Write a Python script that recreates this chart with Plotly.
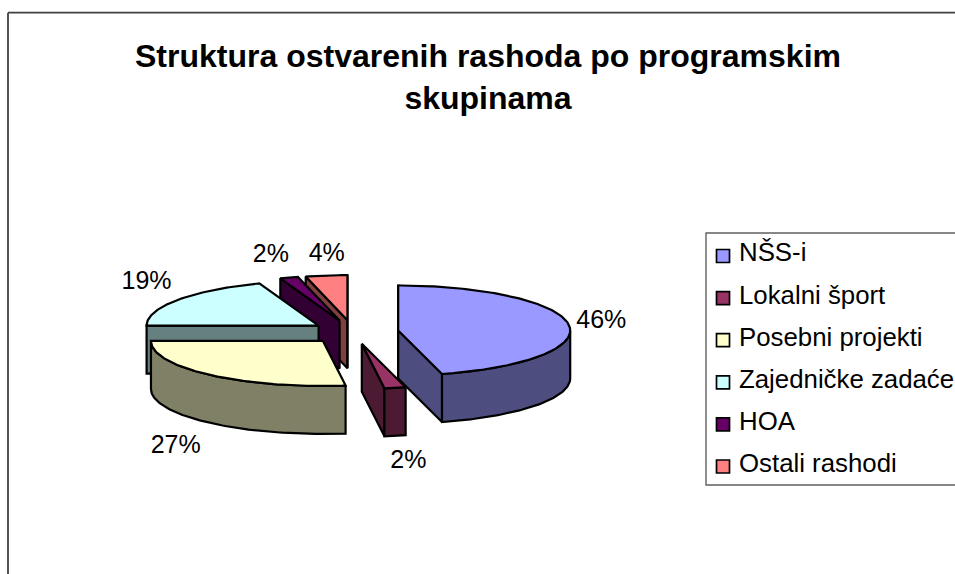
import math
import plotly.graph_objects as go

title = "Struktura ostvarenih rashoda po programskim<br>skupinama"
categories = ["NŠS-i", "Lokalni šport", "Posebni projekti", "Zajedničke zadaće", "HOA", "Ostali rashodi"]
shares = [45.9, 2.0, 27.1, 19.4, 1.7, 3.9]
top_colors = ["#9999FF", "#993366", "#FFFFCC", "#CCFFFF", "#660066", "#FF8080"]
wall_colors = ["#4D4D80", "#4D1A33", "#808066", "#668080", "#330033", "#804040"]

# Pie projection (pixels on the full-page axes)
CX, CY = 353, 332
RX, RY = 172, 45
DEPTH = 48
EXPLODE = [0.265, 0.265, 0.265, 0.244, 0.265, 0.265]
LABEL_NUDGE = [(-5, 0), (6, 3), (-9, 7), (0, -4), (-7, 0), (5, 2)]
LINE_W = 2.2
FONT = "Liberation Sans, Arial, sans-serif"
LEG_X, LEG_Y0, LEG_STEP = 723, 256, 42.1
DRAW_ORDER = [5, 4, 3, 2, 0, 1]


def poly(xs, ys, fill):
    return go.Scatter(
        x=xs + xs[:1], y=ys + ys[:1], mode="lines", fill="toself", fillcolor=fill,
        line=dict(color="black", width=LINE_W), hoverinfo="skip", showlegend=False,
    )


def rim(ax, ay, a0, a1):
    n = max(2, int(abs(a1 - a0)) + 1)
    angs = [math.radians(a0 + (a1 - a0) * i / (n - 1)) for i in range(n)]
    return [ax + RX * math.sin(t) for t in angs], [ay - RY * math.cos(t) for t in angs]


total = sum(shares)
bounds = [0.0]
for v in shares:
    bounds.append(bounds[-1] + v / total * 360)

traces, label_x, label_y, label_text = [], [], [], []
slices = {}
for i, v in enumerate(shares):
    a0, a1 = bounds[i], bounds[i + 1]
    mid = math.radians((a0 + a1) / 2)
    ax = CX + EXPLODE[i] * RX * math.sin(mid)
    ay = CY - EXPLODE[i] * RY * math.cos(mid)
    slices[i] = (a0, a1, ax, ay)
    k = 1.22
    label_x.append(ax + k * RX * math.sin(mid) + LABEL_NUDGE[i][0])
    label_y.append(ay - (k * RY + 13) * math.cos(mid) + (DEPTH if math.cos(mid) < 0 else 0) + LABEL_NUDGE[i][1])
    label_text.append(f"{round(v / total * 100)}%")

for i in DRAW_ORDER:
    a0, a1, ax, ay = slices[i]
    # Cut walls: only those facing the viewer
    for a, sign in ((a0, -1), (a1, 1)):
        if sign * math.sin(math.radians(a)) >= -1e-6:
            ex, ey = rim(ax, ay, a, a)
            traces.append(poly([ax, ex[0], ex[0], ax], [ay, ey[0], ey[0] + DEPTH, ay + DEPTH], wall_colors[i]))
    f0, f1 = max(a0, 90), min(a1, 270)
    if f1 > f0:
        rx_, ry_ = rim(ax, ay, f0, f1)
        traces.append(poly(rx_ + rx_[::-1], ry_ + [y + DEPTH for y in ry_[::-1]], wall_colors[i]))
    rx_, ry_ = rim(ax, ay, a0, a1)
    traces.append(poly([ax] + rx_, [ay] + ry_, top_colors[i]))

fig = go.Figure(traces)

# Slice labels
fig.add_trace(go.Scatter(
    x=label_x, y=label_y, text=label_text, mode="text", textposition="middle center",
    textfont=dict(family=FONT, size=25, color="black"), hoverinfo="skip", showlegend=False,
))
# Legend swatches and texts
leg_y = [LEG_Y0 + LEG_STEP * i for i in range(len(categories))]
fig.add_trace(go.Scatter(
    x=[LEG_X] * len(categories), y=leg_y, mode="markers",
    marker=dict(symbol="square", size=13, color=top_colors, line=dict(color="black", width=1.7)),
    hoverinfo="skip", showlegend=False,
))
fig.add_trace(go.Scatter(
    x=[LEG_X + 16] * len(categories), y=[y - 1 for y in leg_y], text=categories, mode="text",
    textposition="middle right", textfont=dict(family=FONT, size=25.8, color="black"),
    hoverinfo="skip", showlegend=False,
))

fig.update_layout(
    width=955, height=574, margin=dict(l=0, r=0, t=0, b=0),
    paper_bgcolor="white", plot_bgcolor="white", showlegend=False,
    title=dict(text=title, x=488 / 955, xanchor="center", y=1 - 67 / 574, yanchor="top",
               font=dict(family=FONT, size=32, color="black", weight="bold")),
    xaxis=dict(range=[0, 955], visible=False, fixedrange=True),
    yaxis=dict(range=[574, 0], visible=False, fixedrange=True),
    shapes=[
        dict(type="line", x0=8, y0=12.7, x1=8, y1=580, line=dict(color="#404040", width=1.8)),
        dict(type="line", x0=8, y0=12.7, x1=960, y1=12.7, line=dict(color="#404040", width=1.8)),
        dict(type="rect", x0=706, y0=233, x1=965, y1=485, line=dict(color="#606060", width=1.4)),
    ],
)
fig.write_html("out.html", config={"displayModeBar": False},
               post_script="document.body.style.margin='0';document.body.style.overflow='hidden';")
